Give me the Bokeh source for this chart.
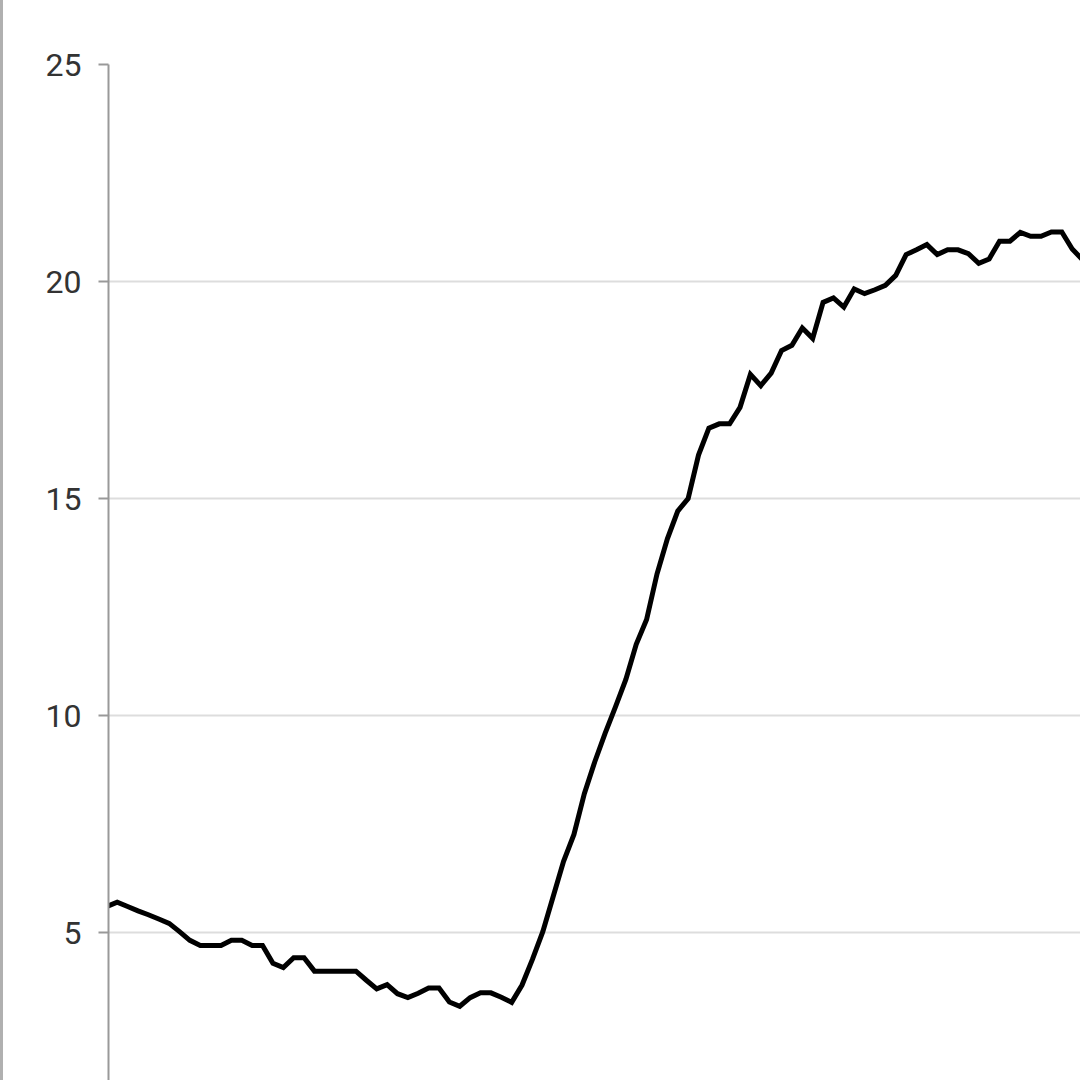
from bokeh.plotting import figure
from bokeh.models import FixedTicker, Range1d, Div
from bokeh.layouts import row
from bokeh.embed import file_html
from bokeh.resources import INLINE

# sample index (regular spacing) and series values
x_index = list(range(-1, 94))
values = [
    5.60, 5.70, 5.60, 5.50, 5.41, 5.31, 5.21, 5.02, 4.82, 4.70,
    4.70, 4.70, 4.82, 4.82, 4.70, 4.70, 4.29, 4.19, 4.42, 4.42,
    4.11, 4.11, 4.11, 4.11, 4.11, 3.90, 3.70, 3.80, 3.59, 3.50,
    3.60, 3.72, 3.72, 3.40, 3.30, 3.50, 3.61, 3.61, 3.51, 3.39,
    3.79, 4.38, 5.02, 5.83, 6.64, 7.26, 8.20, 8.93, 9.59, 10.20,
    10.83, 11.64, 12.21, 13.26, 14.07, 14.71, 15.00, 16.00, 16.62, 16.72,
    16.72, 17.10, 17.86, 17.60, 17.89, 18.41, 18.53, 18.93, 18.69, 19.52,
    19.62, 19.41, 19.83, 19.72, 19.81, 19.91, 20.14, 20.62, 20.73, 20.85,
    20.62, 20.73, 20.73, 20.64, 20.42, 20.52, 20.93, 20.93, 21.13, 21.04,
    21.04, 21.14, 21.14, 20.75, 20.50,
]
y_ticks = [5, 10, 15, 20, 25]

p = figure(
    width=1077, height=1080,
    output_backend="svg", toolbar_location=None,
    x_range=Range1d(-0.84, 92.8), y_range=Range1d(1.59, 25.0),
    min_border_left=105, min_border_top=64,
    min_border_right=0, min_border_bottom=0,
    x_axis_location=None, margin=0,
)
p.outline_line_color = None
p.background_fill_color = "white"
p.border_fill_color = "white"

p.line(x_index, values, line_color="black", line_width=5, line_join="miter")

p.xgrid.visible = False
p.ygrid.ticker = FixedTicker(ticks=y_ticks)
p.ygrid.grid_line_color = "#dddddd"
p.ygrid.grid_line_width = 2

ax = p.yaxis[0]
ax.ticker = FixedTicker(ticks=y_ticks)
ax.axis_line_color = "#999999"
ax.axis_line_width = 2
ax.major_tick_line_color = "#999999"
ax.major_tick_line_width = 2
ax.major_tick_in = 0
ax.major_tick_out = 10
ax.minor_tick_line_color = None
ax.major_label_text_font = "Roboto"
ax.major_label_text_font_size = "32px"
ax.major_label_text_color = "#333333"
ax.major_label_standoff = 17

# thin grey edge at the far left of the page
edge = Div(text="", width=3, height=1080, margin=0,
           styles={"background-color": "#b0b0b0"})

layout = row(edge, p, spacing=0, margin=0)
open("out.html", "w").write(file_html(layout, INLINE))
